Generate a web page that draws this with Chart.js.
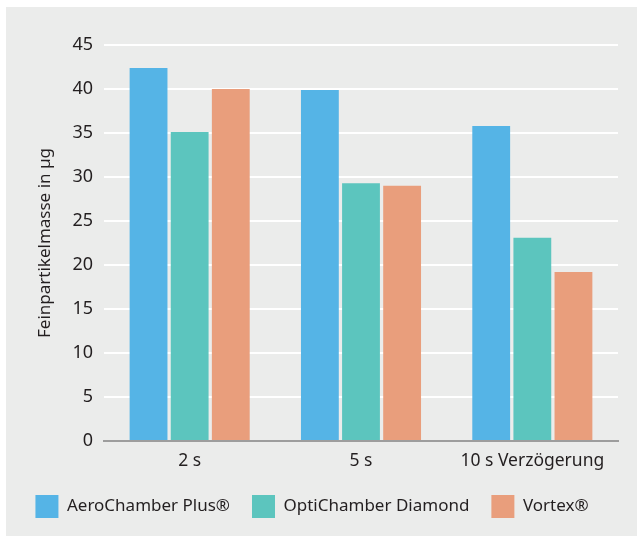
<!DOCTYPE html>
<html>
<head>
<meta charset="utf-8">
<script src="https://cdn.jsdelivr.net/npm/chart.js@4.4.0/dist/chart.umd.min.js"></script>
<style>
  html, body { margin: 0; padding: 0; background: #ffffff; }
  #box { position: absolute; left: 6px; top: 7px; width: 631px; height: 529px; background: #ebeceb; }
</style>
</head>
<body>
<div id="box"><canvas id="grafico" width="631" height="529"></canvas></div>
<script>
// Kategorien und Werte
var kategorien = ['2 s', '5 s', '10 s Verzögerung'];
var aeroChamber = [42.4, 39.9, 35.8];
var optiChamber = [35.1, 29.3, 23.1];
var vortex = [40.0, 29.0, 19.2];
var serien = ['AeroChamber Plus®', 'OptiChamber Diamond', 'Vortex®'];

var schrift = '"Noto Sans", sans-serif';
var ctx = document.getElementById('grafico').getContext('2d');

var grafData = {
  labels: kategorien,
  datasets: [
    { label: serien[0], data: aeroChamber, backgroundColor: '#55b4e6' },
    { label: serien[1], data: optiChamber, backgroundColor: '#5cc5be' },
    { label: serien[2], data: vortex, backgroundColor: '#e99e7c' }
  ]
};

var grafOptions = {
  responsive: false,
  animation: false,
  datasets: { bar: { categoryPercentage: 0.72, barPercentage: 0.92 } },
  layout: { padding: { left: 0, right: 19, top: 38, bottom: 8 } },
  plugins: {
    tooltip: { enabled: false },
    legend: {
      position: 'bottom',
      labels: {
        boxWidth: 23, boxHeight: 23, padding: 22, color: '#231f20',
        font: { family: schrift, size: 17 }
      }
    }
  },
  scales: {
    x: {
      afterFit: function (s) { s.height = 32; },
      grid: { display: false, drawTicks: false },
      border: { color: '#9d9d9d', width: 2 },
      ticks: { color: '#231f20', padding: 10, font: { family: schrift, size: 17.5 } }
    },
    y: {
      min: 0, max: 45,
      afterFit: function (s) { s.width = 98; },
      grid: { color: '#ffffff', lineWidth: 2, drawTicks: false },
      border: { display: false },
      ticks: { stepSize: 5, color: '#231f20', padding: 11, font: { family: schrift, size: 18 } },
      title: {
        display: true, text: 'Feinpartikelmasse in µg', color: '#231f20',
        font: { family: schrift, size: 17 }, padding: { top: 29, bottom: 0 }
      }
    }
  }
};

var graf = new Chart(ctx, { type: 'bar', data: grafData, options: grafOptions });
</script>
</body>
</html>
